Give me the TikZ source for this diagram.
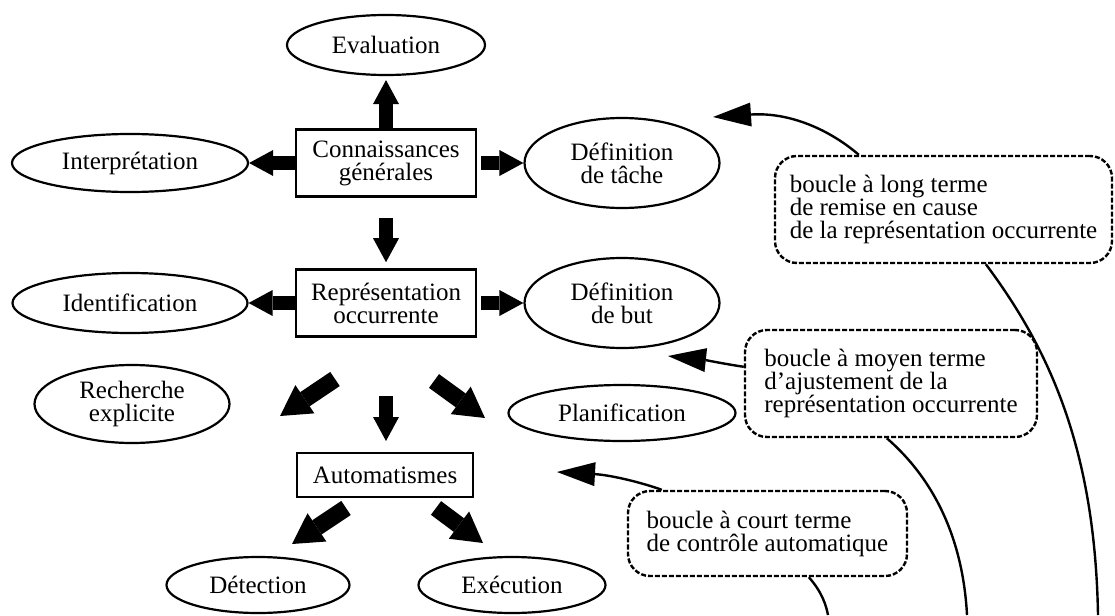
\documentclass[tikz,border=0pt]{standalone}
\usepackage{fontspec}
\setmainfont{Liberation Serif}
\usetikzlibrary{arrows.meta,shapes.geometric,calc}
\begin{document}
\begin{tikzpicture}[x=1pt,y=-1pt,
  every node/.style={font=\fontsize{25}{23}\selectfont, align=center, inner sep=0pt},
  ell/.style={ellipse, draw, line width=2.2pt},
  rbox/.style={rectangle, draw, line width=2.6pt},
  loopbox/.style={rectangle, draw, rounded corners=22pt, line width=2.4pt, dash pattern=on 5pt off 2pt, align=left},
  fat/.style={line width=14pt, -{Triangle[length=24pt,width=26pt,line width=0pt]}},
  fatd/.style={line width=17pt, -{Triangle[length=30pt,width=34pt,line width=0pt]}},
  loopline/.style={line width=2.4pt},
  looparrow/.style={line width=2.4pt, -{Triangle[length=38pt,width=24pt,line width=0pt]}}
]
\useasboundingbox (0,0) rectangle (1115,615);

% main nodes
\node[ell, minimum width=198pt, minimum height=60pt] (eval) at (386,45) {Evaluation};
\node[rbox, minimum width=180pt, minimum height=67pt] (conn) at (386,163) {Connaissances\\générales};
\node[ell, minimum width=236pt, minimum height=58pt] (interp) at (130,163) {Interprétation};
\node[ell, minimum width=195pt, minimum height=90pt] (deftache) at (622,163) {Définition\\de tâche};
\node[rbox, minimum width=180pt, minimum height=67pt] (rep) at (386,303) {Représentation\\occurrente};
\node[ell, minimum width=235pt, minimum height=60pt] (ident) at (130,303) {Identification};
\node[ell, minimum width=195pt, minimum height=90pt] (defbut) at (622,303) {Définition\\de but};
\node[ell, minimum width=195pt, minimum height=78pt] (rech) at (132,404) {Recherche\\explicite};
\node[ell, minimum width=227pt, minimum height=56pt] (plan) at (622,413) {Planification};
\node[rbox, minimum width=176pt, minimum height=44pt] (auto) at (385,475) {Automatismes};
\node[ell, minimum width=183pt, minimum height=56pt] (detect) at (258,585) {Détection};
\node[ell, minimum width=187pt, minimum height=56pt] (exec) at (512,585) {Exécution};

% loop boxes
\node[loopbox, minimum width=337pt, minimum height=107pt] (long) at (943.5,209.5)
  {boucle à long terme\\de remise en cause\\de la représentation occurrente};
\node[loopbox, minimum width=292pt, minimum height=107pt] (med) at (891,383.5)
  {boucle à moyen terme\\d'ajustement de la\\représentation occurrente};
\node[loopbox, minimum width=279pt, minimum height=85pt] (short) at (767.5,533.5)
  {boucle à court terme\\de contrôle automatique};

% fat arrows between nodes
\draw[fat, shorten >=4pt] (conn) -- (eval);
\draw[fat] (conn) -- (interp);
\draw[fat, shorten <=4pt] (conn) -- (deftache);
\draw[fat, shorten <=20pt, shorten >=6pt] (conn) -- (rep);
\draw[fat] (rep) -- (ident);
\draw[fat, shorten <=4pt] (rep) -- (defbut);

% free fat arrows
\coordinate (d1a) at (335,379); \coordinate (d1b) at (280,416);
\coordinate (d2a) at (386,396); \coordinate (d2b) at (386,441);
\coordinate (d3a) at (434,381); \coordinate (d3b) at (485,418);
\coordinate (d4a) at (346,508); \coordinate (d4b) at (292,544);
\coordinate (d5a) at (436,508); \coordinate (d5b) at (483,543);
\draw[fatd] (d1a) -- (d1b);
\draw[fat] (d2a) -- (d2b);
\draw[fatd] (d3a) -- (d3b);
\draw[fatd] (d4a) -- (d4b);
\draw[fatd] (d5a) -- (d5b);

% loop arrows
\coordinate (t1) at (713,117);
\coordinate (t2) at (668,356);
\coordinate (t3) at (557,472);
\draw[looparrow] ($(long.north west)+(85,0)$) .. controls (830,130) and (790,112) .. (t1);
\draw[looparrow] ($(med.north west)+(0,38)$) .. controls (725,364) and (705,360) .. (t2);
\draw[looparrow] ($(short.north west)+(35,0)$) .. controls (640,482) and (610,475) .. (t3);

% loop lines to the bottom
\coordinate (b1) at (828,615);
\coordinate (b2) at (967,615);
\coordinate (b3) at (1098,615);
\draw[loopline] ($(short.south west)+(182,0)$) .. controls (822,592) and (826,605) .. (b1);
\draw[loopline] ($(med.south west)+(143,0)$) .. controls (935,480) and (963,540) .. (b2);
\draw[loopline] ($(long.south west)+(212,0)$) .. controls (1050,350) and (1095,450) .. (b3);
\end{tikzpicture}
\end{document}
